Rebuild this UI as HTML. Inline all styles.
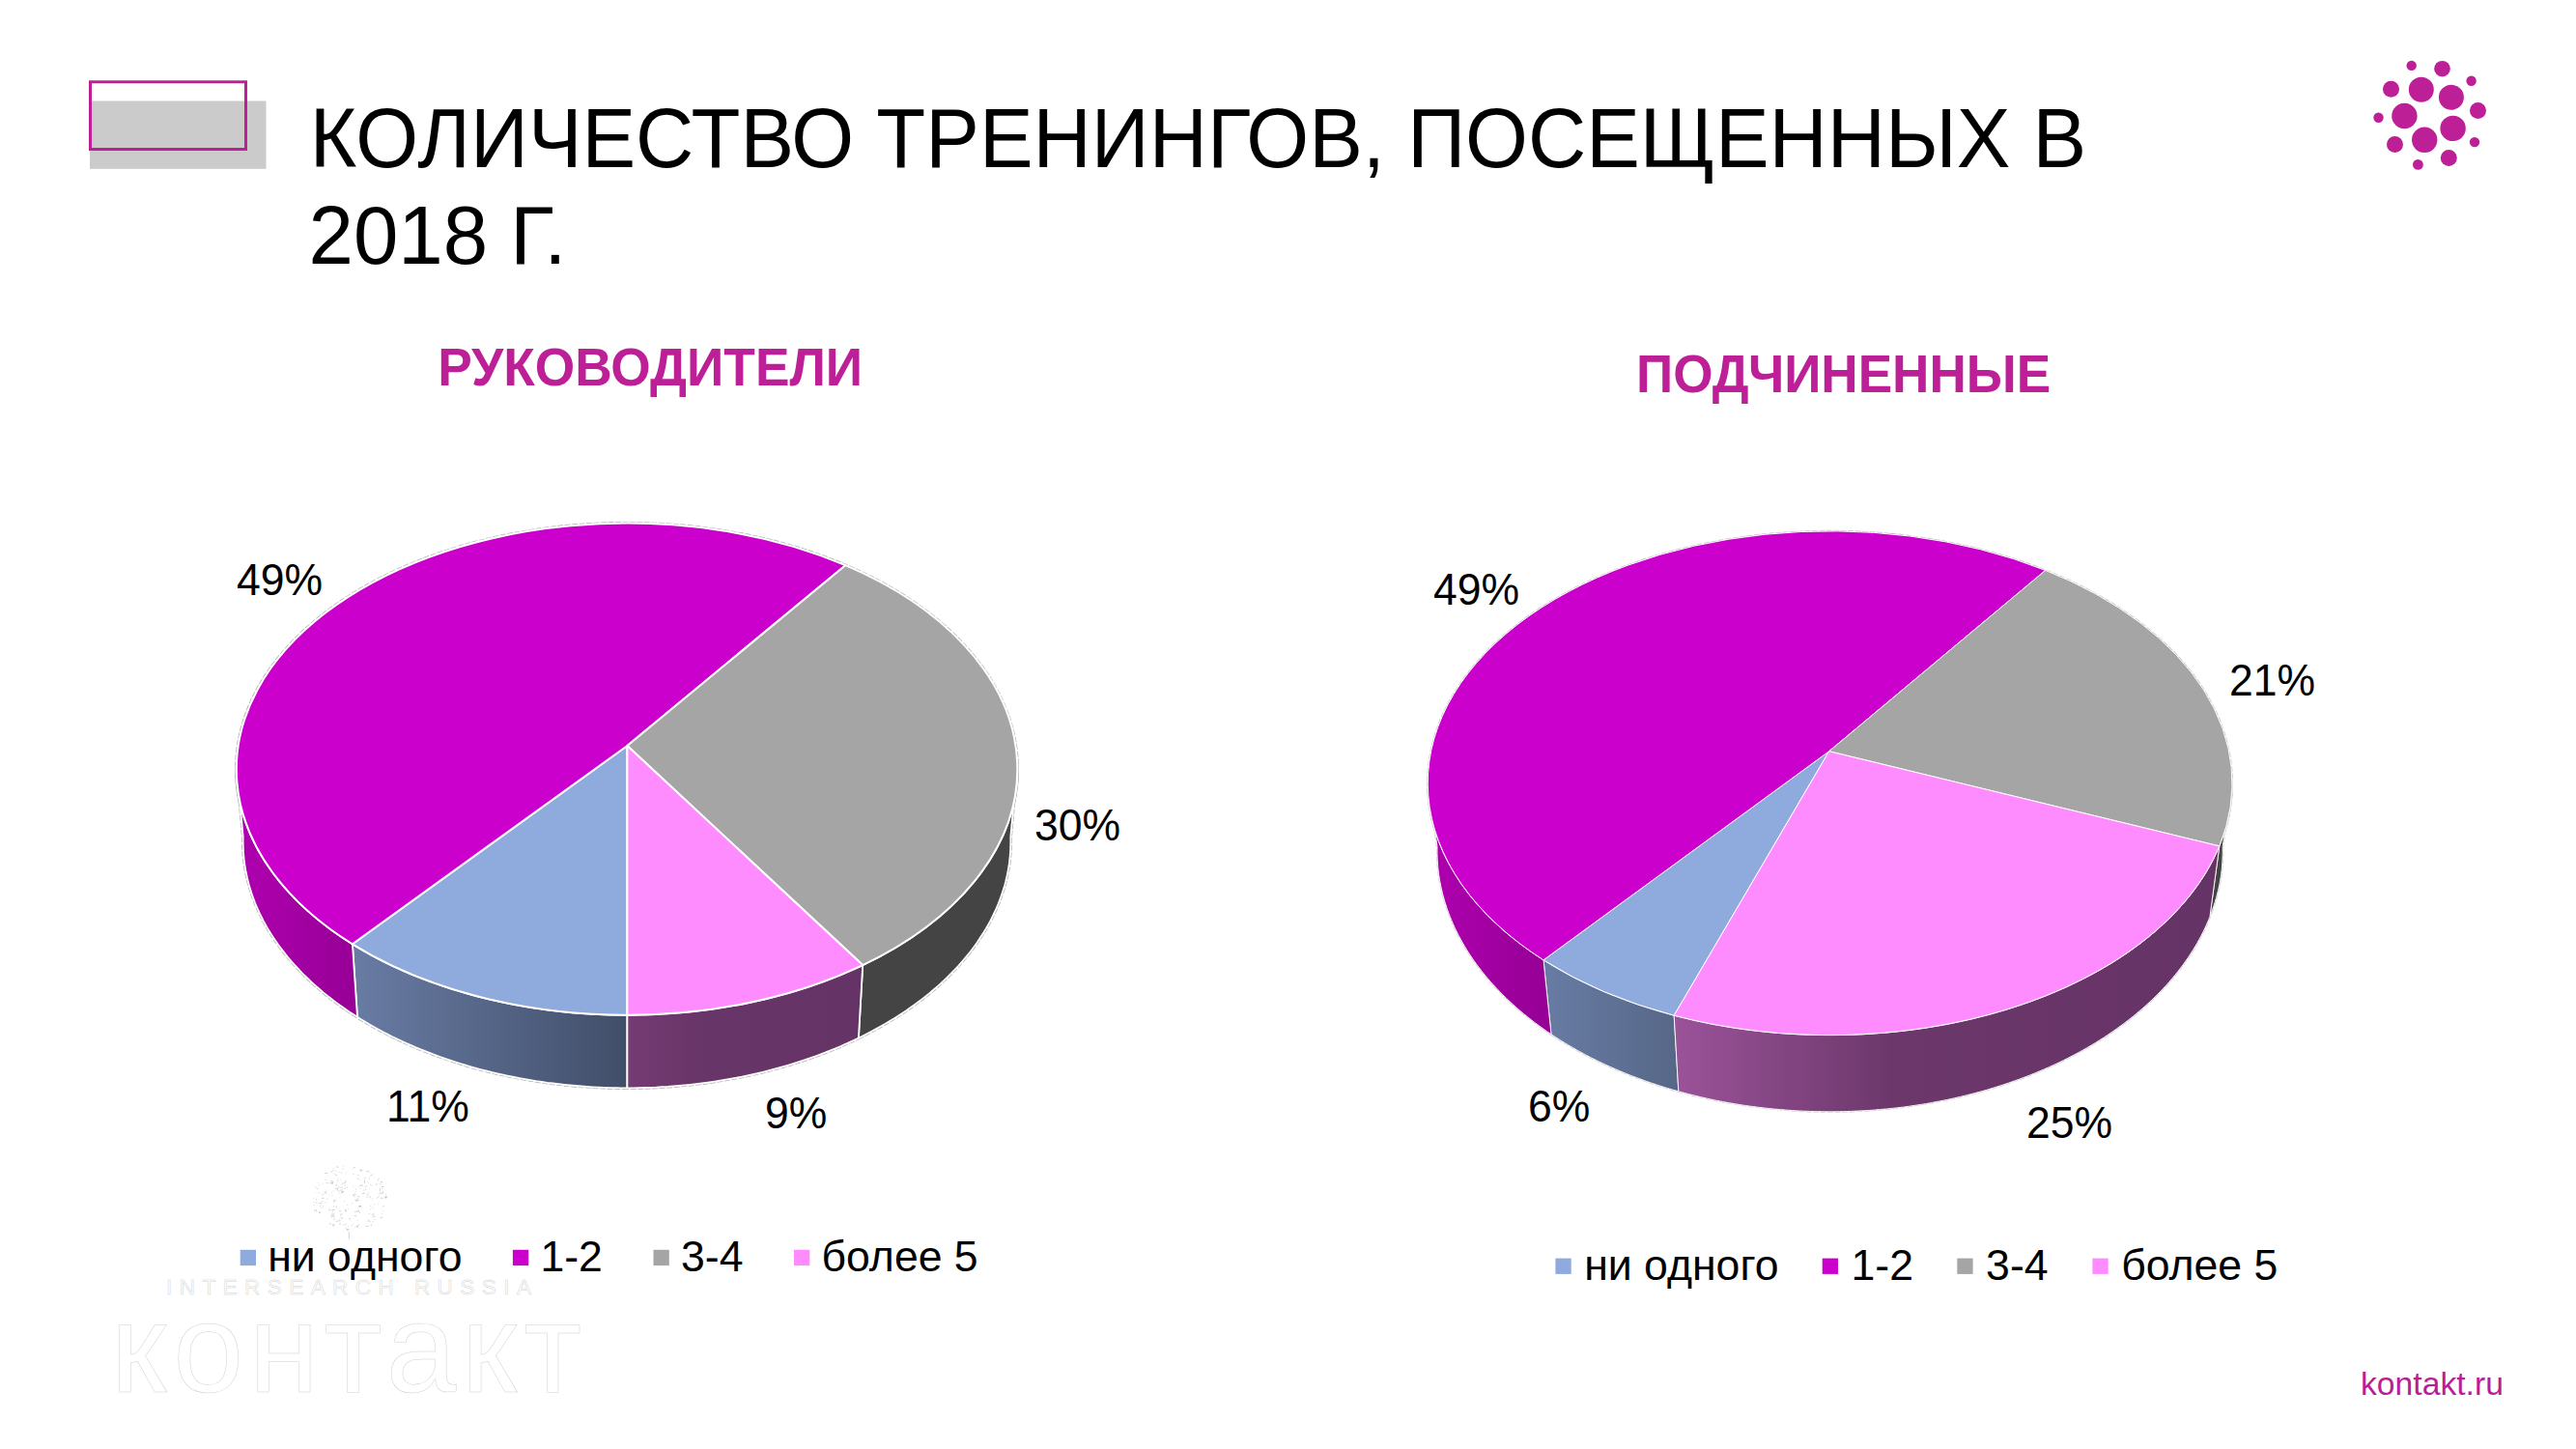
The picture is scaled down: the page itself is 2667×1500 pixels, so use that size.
<!DOCTYPE html>
<html lang="ru"><head><meta charset="utf-8"><title>Количество тренингов</title>
<style>
html,body{margin:0;padding:0;background:#fff;}
body{width:2667px;height:1500px;overflow:hidden;}
svg{display:block;font-family:"Liberation Sans",sans-serif;}
</style></head><body>
<svg width="2667" height="1500" viewBox="0 0 2667 1500">
<rect width="2667" height="1500" fill="#fff"/>
<!-- title marker -->
<rect x="93" y="104.5" width="182.5" height="70.3" fill="#CBCBCB"/>
<rect x="93.5" y="84.8" width="161" height="69.7" fill="none" stroke="#BC1F96" stroke-width="3"/>
<!-- title -->
<text transform="translate(320.7,172.7) scale(1.0,1.034)" font-size="83.4" fill="#000" font-weight="normal" text-anchor="start" >КОЛИЧЕСТВО ТРЕНИНГОВ, ПОСЕЩЕННЫХ В</text>
<text transform="translate(319.5,272.9) scale(1.0,1.03)" font-size="83.4" fill="#000" font-weight="normal" text-anchor="start" >2018 Г.</text>
<!-- corner logo -->
<g fill="#BC1F96"><circle cx="2496.7" cy="67.9" r="5.2"/><circle cx="2528.5" cy="71.2" r="8.3"/><circle cx="2558.6" cy="83.7" r="5.2"/><circle cx="2475.5" cy="92.3" r="8.5"/><circle cx="2506.8" cy="92.8" r="13"/><circle cx="2537.9" cy="100.8" r="13"/><circle cx="2565.5" cy="114.5" r="8.5"/><circle cx="2489.4" cy="120" r="13.2"/><circle cx="2462.5" cy="121.8" r="5.2"/><circle cx="2539.6" cy="132.9" r="13.2"/><circle cx="2510.2" cy="144.8" r="13.2"/><circle cx="2562" cy="147.1" r="5.2"/><circle cx="2479.5" cy="149.5" r="8.5"/><circle cx="2535.3" cy="163.5" r="8.5"/><circle cx="2503.4" cy="170.4" r="5.4"/></g>
<!-- headings -->
<text transform="translate(673.2,398.5) scale(1.0,1.03)" font-size="53.3" fill="#BC1F96" font-weight="bold" text-anchor="middle" >РУКОВОДИТЕЛИ</text>
<text transform="translate(1908.6,406.4) scale(1.0,1.03)" font-size="53.1" fill="#BC1F96" font-weight="bold" text-anchor="middle" >ПОДЧИНЕННЫЕ</text>
<!-- footer logo (white on white, faint outline) -->
<g fill="#fff" stroke="#d2d2d2" stroke-width="0.5">
<text x="172" y="1340" font-size="22.5" fill="#fff" font-weight="normal" text-anchor="start" letter-spacing="7.45">INTERSEARCH RUSSIA</text>
<text x="115" y="1440.5" font-size="131" fill="#fff" font-weight="normal" text-anchor="start" letter-spacing="5.5">контакт</text>
<path fill="none" stroke="#b0b0b0" stroke-width="0.55" d="M348.2 1216.1l0.8 0.0M368.2 1269.2l0.8 0.0M329.9 1234.8l0.8 0.0M365.7 1209.6l-0.6 0.6M396.3 1249.6l-0.6 0.6M367.7 1233.3l0.8 0.0M366.2 1214.8l0.0 1.2M364.9 1245.5l-0.8 0.8M331.2 1245.5l2.0 0.0M330.8 1255.3l-0.6 0.6M371.0 1240.2l-2.0 2.0M383.1 1238.1l0.0 2.0M346.4 1261.1l0.8 0.0M367.5 1242.3l2.0 2.0M332.4 1234.8l0.8 0.8M395.2 1235.0l2.0 0.0M349.5 1230.0l0.0 2.8M344.1 1254.3l0.8 0.0M379.6 1227.2l-2.0 2.0M345.2 1232.5l0.6 0.6M395.7 1230.4l-0.6 0.6M345.4 1257.2l0.0 2.8M393.9 1240.3l2.8 0.0M354.2 1224.9l2.8 0.0M389.8 1225.0l0.0 2.0M375.9 1232.1l1.2 0.0M387.3 1218.3l0.6 0.6M334.5 1242.9l-1.4 1.4M396.7 1253.8l-0.6 0.6M358.5 1266.5l-2.0 2.0M354.0 1233.1l0.0 2.8M339.4 1216.9l0.6 0.6M331.2 1245.2l-0.6 0.6M396.4 1248.5l1.2 0.0M370.6 1215.9l1.4 1.4M369.7 1238.7l2.8 0.0M399.8 1238.1l0.0 2.0M349.7 1224.0l0.8 0.0M351.2 1253.8l2.0 0.0M376.9 1223.8l0.8 0.8M350.7 1221.1l-1.4 1.4M372.3 1248.4l1.2 0.0M386.3 1257.3l1.2 0.0M344.8 1223.6l-1.4 1.4M357.7 1271.1l1.4 1.4M359.5 1229.1l0.0 0.8M360.2 1251.2l0.8 0.0M393.4 1260.3l2.8 0.0M391.8 1235.9l0.6 0.6M353.8 1233.6l1.2 0.0M336.4 1214.4l2.8 0.0M385.4 1215.7l-2.0 2.0M373.9 1230.0l-0.8 0.8M379.2 1212.7l2.8 0.0M339.7 1240.6l-1.4 1.4M343.3 1234.8l0.8 0.0M393.4 1230.3l0.0 2.8M383.1 1248.1l1.2 0.0M334.2 1248.8l0.8 0.0M348.4 1241.8l-2.0 2.0M383.7 1212.9l-0.6 0.6M342.4 1224.9l2.8 0.0M366.6 1258.7l2.8 0.0M370.0 1219.5l2.0 2.0M392.0 1219.7l0.0 1.2M355.4 1233.0l0.6 0.6M375.0 1235.5l2.0 0.0M383.7 1268.3l2.0 0.0M396.6 1233.4l0.0 1.2M335.7 1235.7l-2.0 2.0M349.4 1219.2l0.6 0.6M366.0 1236.3l2.8 0.0M348.8 1249.2l-0.6 0.6M340.9 1266.8l2.0 0.0M344.2 1268.9l2.0 0.0M381.5 1262.9l2.0 2.0M367.2 1254.5l2.0 0.0M327.7 1253.7l0.0 0.8M330.1 1223.7l-0.8 0.8M358.2 1229.2l-2.0 2.0M394.7 1224.3l0.8 0.0M347.3 1226.9l2.0 0.0M357.6 1252.6l1.4 1.4M357.7 1251.6l0.0 2.8M365.3 1267.7l-1.4 1.4M349.7 1263.8l2.8 0.0M371.5 1267.1l0.0 1.2M327.6 1252.1l0.0 2.0M369.4 1254.0l2.8 0.0M337.6 1224.3l2.0 0.0M351.3 1228.5l-1.4 1.4M347.1 1230.5l2.0 0.0M352.7 1238.7l-0.8 0.8M342.4 1259.8l2.0 0.0M386.2 1215.6l-0.6 0.6M353.6 1226.5l0.8 0.0M368.4 1242.5l2.8 0.0M382.2 1255.9l0.0 1.2M345.2 1248.8l0.8 0.0M386.8 1255.6l-2.0 2.0M379.8 1262.4l0.8 0.0M386.9 1246.4l0.8 0.0M351.1 1212.8l0.0 0.8M371.6 1249.3l2.8 0.0M343.6 1237.5l0.8 0.0M374.1 1210.1l0.0 2.0M385.6 1264.7l1.2 0.0M341.1 1251.0l0.0 2.8M393.4 1225.6l1.2 0.0M342.9 1257.5l0.8 0.8M344.0 1252.5l2.8 0.0M345.7 1241.7l0.0 2.8M359.2 1213.8l-0.8 0.8M347.3 1211.5l0.0 0.8M345.6 1210.9l-2.0 2.0M380.9 1223.8l0.8 0.8M369.8 1249.7l0.6 0.6M377.5 1221.7l0.0 2.8M346.6 1215.3l2.0 2.0M347.6 1264.3l2.0 0.0M381.1 1264.2l1.2 0.0M378.2 1268.6l1.4 1.4M352.0 1233.0l-0.6 0.6M351.1 1235.5l0.6 0.6M344.9 1209.1l0.8 0.8M342.5 1224.1l-1.4 1.4M337.9 1231.6l0.0 0.8M385.8 1249.7l-0.8 0.8M379.7 1237.1l2.0 0.0M360.7 1269.3l-0.8 0.8M336.4 1234.5l1.4 1.4M343.0 1257.2l2.0 2.0M373.8 1226.6l-2.0 2.0M332.5 1250.5l1.2 0.0M365.7 1237.2l2.0 2.0M356.2 1243.8l0.8 0.0M336.8 1244.4l0.8 0.8M351.7 1262.2l0.8 0.0M381.0 1234.4l0.0 1.2M352.3 1229.2l2.8 0.0M333.0 1240.7l0.8 0.0M344.2 1222.9l0.0 2.8M356.6 1227.3l1.2 0.0M392.3 1238.6l-2.0 2.0M342.4 1213.1l1.2 0.0M395.8 1256.0l0.0 0.8M365.8 1208.3l1.2 0.0M367.1 1208.1l0.8 0.8M371.5 1242.5l0.0 0.8M331.0 1226.5l-0.8 0.8M353.2 1221.2l-0.6 0.6M358.8 1272.6l2.8 0.0M325.6 1234.3l0.6 0.6M325.0 1240.4l0.0 0.8M343.1 1252.2l0.8 0.8M378.6 1230.9l0.0 1.2M382.3 1219.1l0.0 1.2M343.7 1267.8l2.8 0.0M370.3 1268.3l0.0 2.8M369.1 1270.0l1.2 0.0M325.1 1247.2l0.0 0.8M378.0 1218.4l0.0 2.0M395.0 1228.5l2.8 0.0M325.8 1252.0l0.0 2.0M399.1 1236.5l0.8 0.0M355.7 1267.5l-0.8 0.8M352.6 1259.3l2.0 2.0M330.1 1254.9l2.0 0.0M365.0 1236.7l1.4 1.4M380.1 1238.7l0.0 1.2M385.8 1259.2l2.8 0.0M394.1 1223.5l2.0 0.0M351.2 1228.9l-0.6 0.6M343.5 1255.7l1.4 1.4M346.2 1256.0l-0.6 0.6M359.9 1272.5l0.0 2.0M333.5 1240.3l2.0 0.0M386.7 1259.6l-0.8 0.8M348.5 1227.9l0.6 0.6M335.6 1234.0l2.8 0.0M365.8 1228.3l0.0 0.8M357.7 1221.9l0.0 2.8M371.1 1252.7l-0.6 0.6M383.3 1226.1l1.4 1.4M352.0 1257.2l2.8 0.0M342.4 1222.7l2.0 0.0M391.4 1246.0l0.6 0.6M385.6 1251.2l0.8 0.0M341.1 1236.9l0.6 0.6M390.8 1221.8l1.2 0.0M369.5 1263.5l0.8 0.0M352.0 1266.1l0.0 2.0M383.0 1252.0l0.8 0.0M372.4 1255.2l0.8 0.8M326.2 1229.3l1.2 0.0M379.7 1269.5l2.0 0.0M354.8 1231.5l-1.4 1.4M354.7 1261.2l-0.8 0.8M372.5 1211.9l2.8 0.0M376.8 1234.2l1.4 1.4M355.5 1209.1l-1.4 1.4M355.2 1206.8l0.8 0.8M353.4 1233.8l2.8 0.0M392.7 1235.2l2.8 0.0M367.8 1231.0l1.2 0.0M324.4 1244.1l0.0 0.8M367.4 1270.4l-0.8 0.8M334.5 1225.3l-0.8 0.8M361.1 1261.8l2.0 0.0M398.4 1239.3l2.8 0.0M329.9 1255.4l1.2 0.0M371.1 1248.5l2.8 0.0M337.4 1220.8l0.0 1.2M352.8 1214.1l1.2 0.0M326.5 1244.9l2.0 0.0M332.4 1247.5l-1.4 1.4M373.3 1227.1l2.8 0.0M353.3 1231.2l-2.0 2.0M399.2 1238.1l0.0 2.8M387.7 1262.2l0.0 0.8M328.5 1230.6l0.6 0.6M385.1 1240.8l0.8 0.0M372.3 1211.3l0.6 0.6M327.5 1240.8l0.0 1.2M370.6 1254.0l1.2 0.0M345.5 1262.3l1.2 0.0M328.3 1230.1l0.8 0.8M348.2 1248.4l0.0 1.2M360.3 1246.9l-0.8 0.8M347.9 1208.1l2.8 0.0M361.3 1275v7.5"/>
</g>
<!-- pies -->
<defs>
<linearGradient id="ag0" gradientUnits="userSpaceOnUse" x1="370" y1="0" x2="650" y2="0"><stop offset="0" stop-color="#687BA3"/><stop offset="1" stop-color="#414E69"/></linearGradient>
<linearGradient id="ag1" gradientUnits="userSpaceOnUse" x1="245" y1="0" x2="370" y2="0"><stop offset="0" stop-color="#B000B0"/><stop offset="1" stop-color="#960096"/></linearGradient>
<linearGradient id="ag3" gradientUnits="userSpaceOnUse" x1="650" y1="0" x2="893" y2="0"><stop offset="0" stop-color="#753B73"/><stop offset="0.35" stop-color="#673567"/><stop offset="1" stop-color="#663366"/></linearGradient>
</defs>
<g fill="none" stroke="#b4b4b4" stroke-width="3.30" stroke-linejoin="round" stroke-dasharray="6 1.5"><polygon points="649.4,1050.8 643.3,1050.8 637.3,1050.7 631.2,1050.6 625.1,1050.4 619.1,1050.1 613.1,1049.8 607.0,1049.4 601.0,1049.0 595.0,1048.5 589.0,1048.0 583.0,1047.4 577.0,1046.7 571.0,1046.0 565.1,1045.3 559.2,1044.4 553.3,1043.6 547.4,1042.6 541.5,1041.6 535.7,1040.6 529.9,1039.5 524.1,1038.3 518.3,1037.1 512.6,1035.9 506.9,1034.6 501.2,1033.2 495.6,1031.8 490.0,1030.3 484.5,1028.8 478.9,1027.2 473.5,1025.5 468.0,1023.9 462.6,1022.1 457.2,1020.3 451.9,1018.5 446.7,1016.6 441.4,1014.7 436.2,1012.7 431.1,1010.7 426.0,1008.6 421.0,1006.4 416.0,1004.3 411.1,1002.0 406.2,999.8 401.4,997.5 396.6,995.1 391.9,992.7 387.2,990.2 382.7,987.7 378.1,985.2 373.6,982.6 369.2,980.0 364.9,977.3 370.0,1052.8 374.2,1055.5 378.6,1058.1 383.0,1060.7 387.4,1063.2 391.9,1065.7 396.5,1068.2 401.1,1070.6 405.8,1073.0 410.6,1075.3 415.4,1077.5 420.2,1079.8 425.1,1081.9 430.0,1084.1 435.0,1086.2 440.1,1088.2 445.2,1090.2 450.3,1092.1 455.5,1094.0 460.7,1095.8 466.0,1097.6 471.3,1099.4 476.6,1101.0 482.0,1102.7 487.4,1104.3 492.9,1105.8 498.4,1107.3 503.9,1108.7 509.5,1110.1 515.1,1111.4 520.7,1112.6 526.4,1113.8 532.0,1115.0 537.7,1116.1 543.5,1117.1 549.2,1118.1 555.0,1119.1 560.8,1119.9 566.6,1120.8 572.5,1121.5 578.3,1122.2 584.2,1122.9 590.1,1123.5 596.0,1124.0 601.9,1124.5 607.8,1124.9 613.7,1125.3 619.6,1125.6 625.6,1125.9 631.5,1126.1 637.5,1126.2 643.4,1126.3 649.4,1126.3"/><polygon points="364.9,977.3 360.6,974.6 356.4,971.9 352.2,969.1 348.1,966.3 344.1,963.4 340.1,960.5 336.3,957.5 332.4,954.6 328.7,951.6 325.0,948.5 321.4,945.4 317.9,942.3 314.4,939.2 311.1,936.0 307.8,932.8 304.6,929.5 301.4,926.2 298.4,922.9 295.4,919.6 292.5,916.2 289.6,912.9 286.9,909.4 284.2,906.0 281.7,902.5 279.2,899.0 276.7,895.5 274.4,892.0 272.2,888.4 270.0,884.9 267.9,881.3 266.0,877.7 264.1,874.0 262.2,870.4 260.5,866.7 258.9,863.0 257.3,859.3 255.9,855.6 254.5,851.9 253.2,848.1 252.0,844.4 250.9,840.6 249.9,836.8 249.0,833.1 248.1,829.3 247.4,825.5 246.7,821.7 246.2,817.9 245.7,814.1 245.3,810.2 245.0,806.4 244.8,802.6 244.7,798.8 244.7,794.9 244.8,791.1 251.7,866.6 251.6,870.4 251.7,874.3 251.8,878.1 252.0,881.9 252.3,885.7 252.6,889.6 253.1,893.4 253.7,897.2 254.3,901.0 255.1,904.8 255.9,908.6 256.8,912.3 257.8,916.1 258.9,919.9 260.1,923.6 261.3,927.4 262.7,931.1 264.1,934.8 265.7,938.5 267.3,942.2 269.0,945.9 270.8,949.5 272.6,953.2 274.6,956.8 276.6,960.4 278.8,963.9 281.0,967.5 283.3,971.0 285.7,974.5 288.1,978.0 290.7,981.5 293.3,984.9 296.0,988.4 298.7,991.7 301.6,995.1 304.5,998.4 307.6,1001.7 310.7,1005.0 313.8,1008.3 317.1,1011.5 320.4,1014.7 323.8,1017.8 327.2,1020.9 330.8,1024.0 334.4,1027.1 338.1,1030.1 341.8,1033.0 345.6,1036.0 349.5,1038.9 353.5,1041.8 357.5,1044.6 361.6,1047.4 365.8,1050.1 370.0,1052.8"/><polygon points="1053.2,791.1 1053.3,795.0 1053.3,798.8 1053.2,802.7 1053.0,806.6 1052.7,810.4 1052.3,814.3 1051.8,818.2 1051.2,822.0 1050.5,825.9 1049.8,829.7 1048.9,833.5 1048.0,837.4 1046.9,841.2 1045.8,845.0 1044.6,848.8 1043.3,852.5 1041.9,856.3 1040.4,860.1 1038.8,863.8 1037.1,867.5 1035.3,871.2 1033.5,874.9 1031.5,878.6 1029.5,882.2 1027.4,885.9 1025.2,889.5 1022.9,893.1 1020.5,896.6 1018.0,900.2 1015.5,903.7 1012.9,907.2 1010.1,910.7 1007.3,914.1 1004.4,917.5 1001.5,920.9 998.4,924.3 995.3,927.6 992.1,930.9 988.8,934.2 985.4,937.4 982.0,940.6 978.5,943.8 974.9,946.9 971.2,950.0 967.4,953.1 963.6,956.1 959.7,959.1 955.8,962.0 951.7,965.0 947.6,967.8 943.4,970.7 939.2,973.5 934.9,976.2 930.5,978.9 926.1,981.6 921.6,984.2 917.0,986.8 912.4,989.4 907.7,991.9 902.9,994.3 898.1,996.7 893.2,999.1 888.9,1074.6 893.6,1072.2 898.4,1069.8 903.0,1067.4 907.6,1064.9 912.2,1062.3 916.7,1059.7 921.1,1057.1 925.5,1054.4 929.8,1051.7 934.0,1049.0 938.2,1046.2 942.3,1043.3 946.3,1040.5 950.3,1037.5 954.2,1034.6 958.0,1031.6 961.8,1028.6 965.5,1025.5 969.1,1022.4 972.6,1019.3 976.1,1016.1 979.5,1012.9 982.8,1009.7 986.0,1006.4 989.2,1003.1 992.3,999.8 995.3,996.4 998.2,993.0 1001.0,989.6 1003.8,986.2 1006.5,982.7 1009.1,979.2 1011.6,975.7 1014.0,972.1 1016.3,968.6 1018.6,965.0 1020.8,961.4 1022.9,957.7 1024.9,954.1 1026.8,950.4 1028.6,946.7 1030.4,943.0 1032.0,939.3 1033.6,935.6 1035.0,931.8 1036.4,928.0 1037.7,924.3 1038.9,920.5 1040.1,916.7 1041.1,912.9 1042.0,909.0 1042.9,905.2 1043.6,901.4 1044.3,897.5 1044.9,893.7 1045.3,889.8 1045.7,885.9 1046.0,882.1 1046.2,878.2 1046.3,874.3 1046.4,870.5 1046.3,866.6"/><polygon points="893.2,999.1 888.4,1001.4 883.4,1003.6 878.4,1005.8 873.4,1008.0 868.3,1010.1 863.2,1012.1 858.0,1014.2 852.7,1016.1 847.5,1018.0 842.1,1019.9 836.8,1021.7 831.3,1023.4 825.9,1025.1 820.4,1026.8 814.9,1028.4 809.3,1029.9 803.7,1031.4 798.0,1032.9 792.4,1034.3 786.6,1035.6 780.9,1036.9 775.1,1038.1 769.3,1039.3 763.5,1040.4 757.7,1041.4 751.8,1042.4 745.9,1043.4 740.0,1044.3 734.0,1045.1 728.0,1045.9 722.1,1046.6 716.1,1047.3 710.1,1047.9 704.0,1048.4 698.0,1048.9 691.9,1049.4 685.9,1049.7 679.8,1050.1 673.7,1050.3 667.7,1050.5 661.6,1050.7 655.5,1050.8 649.4,1050.8 649.4,1126.3 655.4,1126.3 661.4,1126.2 667.3,1126.0 673.3,1125.8 679.3,1125.6 685.2,1125.2 691.2,1124.9 697.1,1124.4 703.0,1123.9 709.0,1123.4 714.9,1122.8 720.7,1122.1 726.6,1121.4 732.5,1120.6 738.3,1119.8 744.1,1118.9 749.9,1117.9 755.7,1116.9 761.4,1115.9 767.2,1114.8 772.9,1113.6 778.5,1112.4 784.2,1111.1 789.8,1109.8 795.3,1108.4 800.9,1106.9 806.4,1105.4 811.9,1103.9 817.3,1102.3 822.7,1100.6 828.1,1098.9 833.4,1097.2 838.6,1095.4 843.9,1093.5 849.1,1091.6 854.2,1089.7 859.3,1087.6 864.4,1085.6 869.4,1083.5 874.3,1081.3 879.2,1079.1 884.1,1076.9 888.9,1074.6"/><ellipse cx="649.0" cy="796.2" rx="404.3" ry="254.6"/></g>
<polygon points="649.4,1050.8 643.3,1050.8 637.3,1050.7 631.2,1050.6 625.1,1050.4 619.1,1050.1 613.1,1049.8 607.0,1049.4 601.0,1049.0 595.0,1048.5 589.0,1048.0 583.0,1047.4 577.0,1046.7 571.0,1046.0 565.1,1045.3 559.2,1044.4 553.3,1043.6 547.4,1042.6 541.5,1041.6 535.7,1040.6 529.9,1039.5 524.1,1038.3 518.3,1037.1 512.6,1035.9 506.9,1034.6 501.2,1033.2 495.6,1031.8 490.0,1030.3 484.5,1028.8 478.9,1027.2 473.5,1025.5 468.0,1023.9 462.6,1022.1 457.2,1020.3 451.9,1018.5 446.7,1016.6 441.4,1014.7 436.2,1012.7 431.1,1010.7 426.0,1008.6 421.0,1006.4 416.0,1004.3 411.1,1002.0 406.2,999.8 401.4,997.5 396.6,995.1 391.9,992.7 387.2,990.2 382.7,987.7 378.1,985.2 373.6,982.6 369.2,980.0 364.9,977.3 370.0,1052.8 374.2,1055.5 378.6,1058.1 383.0,1060.7 387.4,1063.2 391.9,1065.7 396.5,1068.2 401.1,1070.6 405.8,1073.0 410.6,1075.3 415.4,1077.5 420.2,1079.8 425.1,1081.9 430.0,1084.1 435.0,1086.2 440.1,1088.2 445.2,1090.2 450.3,1092.1 455.5,1094.0 460.7,1095.8 466.0,1097.6 471.3,1099.4 476.6,1101.0 482.0,1102.7 487.4,1104.3 492.9,1105.8 498.4,1107.3 503.9,1108.7 509.5,1110.1 515.1,1111.4 520.7,1112.6 526.4,1113.8 532.0,1115.0 537.7,1116.1 543.5,1117.1 549.2,1118.1 555.0,1119.1 560.8,1119.9 566.6,1120.8 572.5,1121.5 578.3,1122.2 584.2,1122.9 590.1,1123.5 596.0,1124.0 601.9,1124.5 607.8,1124.9 613.7,1125.3 619.6,1125.6 625.6,1125.9 631.5,1126.1 637.5,1126.2 643.4,1126.3 649.4,1126.3" fill="url(#ag0)" stroke="#fff" stroke-width="1.80" stroke-linejoin="round"/>
<polygon points="364.9,977.3 360.6,974.6 356.4,971.9 352.2,969.1 348.1,966.3 344.1,963.4 340.1,960.5 336.3,957.5 332.4,954.6 328.7,951.6 325.0,948.5 321.4,945.4 317.9,942.3 314.4,939.2 311.1,936.0 307.8,932.8 304.6,929.5 301.4,926.2 298.4,922.9 295.4,919.6 292.5,916.2 289.6,912.9 286.9,909.4 284.2,906.0 281.7,902.5 279.2,899.0 276.7,895.5 274.4,892.0 272.2,888.4 270.0,884.9 267.9,881.3 266.0,877.7 264.1,874.0 262.2,870.4 260.5,866.7 258.9,863.0 257.3,859.3 255.9,855.6 254.5,851.9 253.2,848.1 252.0,844.4 250.9,840.6 249.9,836.8 249.0,833.1 248.1,829.3 247.4,825.5 246.7,821.7 246.2,817.9 245.7,814.1 245.3,810.2 245.0,806.4 244.8,802.6 244.7,798.8 244.7,794.9 244.8,791.1 251.7,866.6 251.6,870.4 251.7,874.3 251.8,878.1 252.0,881.9 252.3,885.7 252.6,889.6 253.1,893.4 253.7,897.2 254.3,901.0 255.1,904.8 255.9,908.6 256.8,912.3 257.8,916.1 258.9,919.9 260.1,923.6 261.3,927.4 262.7,931.1 264.1,934.8 265.7,938.5 267.3,942.2 269.0,945.9 270.8,949.5 272.6,953.2 274.6,956.8 276.6,960.4 278.8,963.9 281.0,967.5 283.3,971.0 285.7,974.5 288.1,978.0 290.7,981.5 293.3,984.9 296.0,988.4 298.7,991.7 301.6,995.1 304.5,998.4 307.6,1001.7 310.7,1005.0 313.8,1008.3 317.1,1011.5 320.4,1014.7 323.8,1017.8 327.2,1020.9 330.8,1024.0 334.4,1027.1 338.1,1030.1 341.8,1033.0 345.6,1036.0 349.5,1038.9 353.5,1041.8 357.5,1044.6 361.6,1047.4 365.8,1050.1 370.0,1052.8" fill="url(#ag1)" stroke="#fff" stroke-width="1.80" stroke-linejoin="round"/>
<polygon points="1053.2,791.1 1053.3,795.0 1053.3,798.8 1053.2,802.7 1053.0,806.6 1052.7,810.4 1052.3,814.3 1051.8,818.2 1051.2,822.0 1050.5,825.9 1049.8,829.7 1048.9,833.5 1048.0,837.4 1046.9,841.2 1045.8,845.0 1044.6,848.8 1043.3,852.5 1041.9,856.3 1040.4,860.1 1038.8,863.8 1037.1,867.5 1035.3,871.2 1033.5,874.9 1031.5,878.6 1029.5,882.2 1027.4,885.9 1025.2,889.5 1022.9,893.1 1020.5,896.6 1018.0,900.2 1015.5,903.7 1012.9,907.2 1010.1,910.7 1007.3,914.1 1004.4,917.5 1001.5,920.9 998.4,924.3 995.3,927.6 992.1,930.9 988.8,934.2 985.4,937.4 982.0,940.6 978.5,943.8 974.9,946.9 971.2,950.0 967.4,953.1 963.6,956.1 959.7,959.1 955.8,962.0 951.7,965.0 947.6,967.8 943.4,970.7 939.2,973.5 934.9,976.2 930.5,978.9 926.1,981.6 921.6,984.2 917.0,986.8 912.4,989.4 907.7,991.9 902.9,994.3 898.1,996.7 893.2,999.1 888.9,1074.6 893.6,1072.2 898.4,1069.8 903.0,1067.4 907.6,1064.9 912.2,1062.3 916.7,1059.7 921.1,1057.1 925.5,1054.4 929.8,1051.7 934.0,1049.0 938.2,1046.2 942.3,1043.3 946.3,1040.5 950.3,1037.5 954.2,1034.6 958.0,1031.6 961.8,1028.6 965.5,1025.5 969.1,1022.4 972.6,1019.3 976.1,1016.1 979.5,1012.9 982.8,1009.7 986.0,1006.4 989.2,1003.1 992.3,999.8 995.3,996.4 998.2,993.0 1001.0,989.6 1003.8,986.2 1006.5,982.7 1009.1,979.2 1011.6,975.7 1014.0,972.1 1016.3,968.6 1018.6,965.0 1020.8,961.4 1022.9,957.7 1024.9,954.1 1026.8,950.4 1028.6,946.7 1030.4,943.0 1032.0,939.3 1033.6,935.6 1035.0,931.8 1036.4,928.0 1037.7,924.3 1038.9,920.5 1040.1,916.7 1041.1,912.9 1042.0,909.0 1042.9,905.2 1043.6,901.4 1044.3,897.5 1044.9,893.7 1045.3,889.8 1045.7,885.9 1046.0,882.1 1046.2,878.2 1046.3,874.3 1046.4,870.5 1046.3,866.6" fill="#444444" stroke="#fff" stroke-width="1.80" stroke-linejoin="round"/>
<polygon points="893.2,999.1 888.4,1001.4 883.4,1003.6 878.4,1005.8 873.4,1008.0 868.3,1010.1 863.2,1012.1 858.0,1014.2 852.7,1016.1 847.5,1018.0 842.1,1019.9 836.8,1021.7 831.3,1023.4 825.9,1025.1 820.4,1026.8 814.9,1028.4 809.3,1029.9 803.7,1031.4 798.0,1032.9 792.4,1034.3 786.6,1035.6 780.9,1036.9 775.1,1038.1 769.3,1039.3 763.5,1040.4 757.7,1041.4 751.8,1042.4 745.9,1043.4 740.0,1044.3 734.0,1045.1 728.0,1045.9 722.1,1046.6 716.1,1047.3 710.1,1047.9 704.0,1048.4 698.0,1048.9 691.9,1049.4 685.9,1049.7 679.8,1050.1 673.7,1050.3 667.7,1050.5 661.6,1050.7 655.5,1050.8 649.4,1050.8 649.4,1126.3 655.4,1126.3 661.4,1126.2 667.3,1126.0 673.3,1125.8 679.3,1125.6 685.2,1125.2 691.2,1124.9 697.1,1124.4 703.0,1123.9 709.0,1123.4 714.9,1122.8 720.7,1122.1 726.6,1121.4 732.5,1120.6 738.3,1119.8 744.1,1118.9 749.9,1117.9 755.7,1116.9 761.4,1115.9 767.2,1114.8 772.9,1113.6 778.5,1112.4 784.2,1111.1 789.8,1109.8 795.3,1108.4 800.9,1106.9 806.4,1105.4 811.9,1103.9 817.3,1102.3 822.7,1100.6 828.1,1098.9 833.4,1097.2 838.6,1095.4 843.9,1093.5 849.1,1091.6 854.2,1089.7 859.3,1087.6 864.4,1085.6 869.4,1083.5 874.3,1081.3 879.2,1079.1 884.1,1076.9 888.9,1074.6" fill="url(#ag3)" stroke="#fff" stroke-width="1.80" stroke-linejoin="round"/>
<path d="M649.4,772.0 L649.4,1050.8 A404.3,254.6 0 0 1 364.9,977.3 Z" fill="#8FAADC" stroke="#fff" stroke-width="2.0" stroke-linejoin="round"/>
<path d="M649.4,772.0 L364.9,977.3 A404.3,254.6 0 0 1 875.3,585.2 Z" fill="#CC00CC" stroke="#fff" stroke-width="2.0" stroke-linejoin="round"/>
<path d="M649.4,772.0 L875.3,585.2 A404.3,254.6 0 0 1 893.2,999.1 Z" fill="#A5A5A5" stroke="#fff" stroke-width="2.0" stroke-linejoin="round"/>
<path d="M649.4,772.0 L893.2,999.1 A404.3,254.6 0 0 1 649.4,1050.8 Z" fill="#FF8CFF" stroke="#fff" stroke-width="2.0" stroke-linejoin="round"/>
<defs>
<linearGradient id="bg0" gradientUnits="userSpaceOnUse" x1="1600" y1="0" x2="1737" y2="0"><stop offset="0" stop-color="#687BA3"/><stop offset="1" stop-color="#566787"/></linearGradient>
<linearGradient id="bg1" gradientUnits="userSpaceOnUse" x1="1477" y1="0" x2="1600" y2="0"><stop offset="0" stop-color="#B000B0"/><stop offset="1" stop-color="#960096"/></linearGradient>
<linearGradient id="bg3" gradientUnits="userSpaceOnUse" x1="1737" y1="0" x2="2290" y2="0"><stop offset="0" stop-color="#9A5299"/><stop offset="0.4" stop-color="#6C386B"/><stop offset="1" stop-color="#663366"/></linearGradient>
</defs>
<g fill="none" stroke="#c8c8c8" stroke-width="2.00" stroke-linejoin="round" stroke-dasharray="6 1.5"><polygon points="1733.2,1051.2 1727.4,1049.6 1721.6,1048.0 1715.9,1046.4 1710.2,1044.6 1704.6,1042.8 1699.0,1041.0 1693.4,1039.1 1687.9,1037.2 1682.4,1035.2 1677.0,1033.1 1671.7,1031.1 1666.3,1028.9 1661.1,1026.7 1655.9,1024.5 1650.7,1022.2 1645.6,1019.8 1640.6,1017.4 1635.6,1015.0 1630.7,1012.5 1625.8,1010.0 1621.0,1007.4 1616.3,1004.8 1611.6,1002.1 1607.0,999.4 1602.5,996.6 1598.0,993.8 1606.0,1070.7 1610.4,1073.5 1614.8,1076.4 1619.3,1079.2 1623.8,1081.9 1628.5,1084.6 1633.1,1087.3 1637.9,1089.9 1642.7,1092.5 1647.5,1095.0 1652.5,1097.4 1657.4,1099.9 1662.4,1102.2 1667.5,1104.5 1672.6,1106.8 1677.8,1109.0 1683.1,1111.2 1688.3,1113.3 1693.6,1115.3 1699.0,1117.3 1704.4,1119.3 1709.9,1121.2 1715.4,1123.0 1720.9,1124.8 1726.5,1126.5 1732.1,1128.2 1737.8,1129.8"/><polygon points="1598.0,993.8 1593.6,991.0 1589.3,988.1 1585.1,985.2 1580.9,982.3 1576.9,979.3 1572.8,976.3 1568.9,973.3 1565.0,970.2 1561.2,967.0 1557.5,963.9 1553.9,960.7 1550.3,957.4 1546.8,954.2 1543.4,950.9 1540.1,947.6 1536.8,944.2 1533.7,940.8 1530.6,937.4 1527.6,933.9 1524.7,930.5 1521.8,927.0 1519.1,923.4 1516.4,919.9 1513.8,916.3 1511.3,912.7 1508.9,909.1 1506.6,905.4 1504.4,901.7 1502.2,898.0 1500.2,894.3 1498.2,890.6 1496.3,886.9 1494.5,883.1 1492.9,879.3 1491.3,875.5 1489.7,871.7 1488.3,867.9 1487.0,864.0 1485.8,860.2 1484.6,856.3 1483.6,852.4 1482.6,848.6 1481.7,844.7 1481.0,840.8 1480.3,836.9 1479.7,833.0 1479.2,829.0 1478.8,825.1 1478.5,821.2 1478.3,817.3 1478.2,813.3 1478.2,809.4 1478.3,805.5 1488.0,876.7 1488.0,880.7 1488.0,884.8 1488.2,888.8 1488.4,892.9 1488.7,896.9 1489.1,900.9 1489.6,905.0 1490.2,909.0 1490.9,913.0 1491.7,917.0 1492.6,921.0 1493.5,925.0 1494.6,929.0 1495.7,933.0 1497.0,937.0 1498.3,940.9 1499.7,944.9 1501.2,948.8 1502.8,952.7 1504.5,956.6 1506.2,960.5 1508.1,964.3 1510.0,968.2 1512.1,972.0 1514.2,975.8 1516.4,979.6 1518.7,983.4 1521.0,987.1 1523.5,990.8 1526.0,994.5 1528.7,998.2 1531.4,1001.8 1534.2,1005.4 1537.0,1009.0 1540.0,1012.5 1543.0,1016.1 1546.1,1019.5 1549.3,1023.0 1552.6,1026.4 1555.9,1029.8 1559.3,1033.2 1562.8,1036.5 1566.4,1039.8 1570.0,1043.1 1573.7,1046.3 1577.5,1049.5 1581.4,1052.6 1585.3,1055.7 1589.3,1058.8 1593.4,1061.8 1597.5,1064.8 1601.7,1067.8 1606.0,1070.7"/><polygon points="2310.9,805.5 2311.0,809.4 2311.0,813.4 2310.9,817.3 2310.7,821.3 2310.4,825.2 2310.0,829.2 2309.5,833.1 2308.9,837.0 2308.2,841.0 2307.4,844.9 2306.5,848.8 2305.6,852.7 2304.5,856.6 2303.4,860.5 2302.1,864.3 2300.8,868.2 2299.3,872.0 2297.8,875.9 2287.9,949.2 2289.4,945.2 2290.8,941.3 2292.1,937.3 2293.4,933.3 2294.6,929.3 2295.6,925.3 2296.6,921.3 2297.5,917.3 2298.3,913.2 2299.0,909.2 2299.6,905.1 2300.1,901.1 2300.5,897.0 2300.8,892.9 2301.0,888.9 2301.2,884.8 2301.2,880.7 2301.2,876.7"/><polygon points="2297.8,875.9 2296.2,879.7 2294.5,883.5 2292.7,887.2 2290.8,891.0 2288.8,894.7 2286.8,898.4 2284.6,902.1 2282.4,905.8 2280.0,909.4 2277.6,913.0 2275.1,916.6 2272.5,920.2 2269.9,923.8 2267.1,927.3 2264.3,930.8 2261.3,934.3 2258.3,937.7 2255.2,941.1 2252.1,944.5 2248.8,947.9 2245.5,951.2 2242.1,954.5 2238.6,957.7 2235.0,961.0 2231.3,964.2 2227.6,967.3 2223.8,970.5 2219.9,973.5 2216.0,976.6 2212.0,979.6 2207.9,982.6 2203.7,985.5 2199.5,988.4 2195.2,991.3 2190.8,994.1 2186.4,996.9 2181.8,999.6 2177.3,1002.3 2172.6,1004.9 2167.9,1007.5 2163.2,1010.1 2158.4,1012.6 2153.5,1015.0 2148.5,1017.5 2143.5,1019.8 2138.5,1022.2 2133.4,1024.4 2128.2,1026.7 2123.0,1028.8 2117.7,1031.0 2112.4,1033.1 2107.1,1035.1 2101.6,1037.1 2096.2,1039.0 2090.7,1040.9 2085.1,1042.7 2079.5,1044.5 2073.9,1046.2 2068.2,1047.8 2062.5,1049.5 2056.7,1051.0 2050.9,1052.5 2045.1,1054.0 2039.3,1055.4 2033.4,1056.7 2027.4,1058.0 2021.5,1059.2 2015.5,1060.4 2009.5,1061.5 2003.4,1062.5 1997.4,1063.5 1991.3,1064.5 1985.2,1065.4 1979.1,1066.2 1972.9,1066.9 1966.7,1067.7 1960.6,1068.3 1954.4,1068.9 1948.2,1069.4 1941.9,1069.9 1935.7,1070.3 1929.5,1070.7 1923.2,1071.0 1916.9,1071.2 1910.7,1071.4 1904.4,1071.5 1898.1,1071.6 1891.9,1071.6 1885.6,1071.5 1879.3,1071.4 1873.1,1071.3 1866.8,1071.0 1860.6,1070.7 1854.3,1070.4 1848.1,1070.0 1841.9,1069.5 1835.7,1069.0 1829.5,1068.4 1823.3,1067.7 1817.1,1067.0 1811.0,1066.3 1804.8,1065.5 1798.7,1064.6 1792.6,1063.7 1786.6,1062.7 1780.5,1061.6 1774.5,1060.5 1768.5,1059.4 1762.6,1058.1 1756.6,1056.9 1750.7,1055.5 1744.9,1054.1 1739.0,1052.7 1733.2,1051.2 1737.8,1129.8 1743.4,1131.3 1749.1,1132.8 1754.8,1134.2 1760.5,1135.6 1766.3,1136.9 1772.1,1138.2 1777.9,1139.4 1783.7,1140.5 1789.6,1141.6 1795.5,1142.6 1801.4,1143.6 1807.4,1144.5 1813.3,1145.3 1819.3,1146.1 1825.3,1146.8 1831.3,1147.5 1837.3,1148.1 1843.4,1148.6 1849.4,1149.1 1855.5,1149.5 1861.5,1149.9 1867.6,1150.2 1873.7,1150.4 1879.8,1150.6 1885.9,1150.7 1892.0,1150.8 1898.0,1150.8 1904.1,1150.7 1910.2,1150.6 1916.3,1150.4 1922.4,1150.1 1928.5,1149.8 1934.5,1149.5 1940.6,1149.0 1946.6,1148.5 1952.7,1148.0 1958.7,1147.4 1964.7,1146.7 1970.7,1146.0 1976.7,1145.2 1982.6,1144.3 1988.6,1143.4 1994.5,1142.5 2000.4,1141.4 2006.2,1140.3 2012.1,1139.2 2017.9,1138.0 2023.7,1136.7 2029.4,1135.4 2035.2,1134.0 2040.9,1132.6 2046.6,1131.1 2052.2,1129.6 2057.8,1128.0 2063.3,1126.3 2068.9,1124.6 2074.4,1122.8 2079.8,1121.0 2085.2,1119.1 2090.6,1117.2 2095.9,1115.2 2101.2,1113.2 2106.4,1111.1 2111.6,1108.9 2116.7,1106.7 2121.8,1104.5 2126.8,1102.2 2131.8,1099.9 2136.7,1097.5 2141.6,1095.0 2146.4,1092.5 2151.2,1090.0 2155.9,1087.4 2160.5,1084.8 2165.1,1082.1 2169.6,1079.4 2174.1,1076.6 2178.5,1073.8 2182.8,1070.9 2187.1,1068.0 2191.3,1065.1 2195.4,1062.1 2199.5,1059.1 2203.5,1056.0 2207.5,1052.9 2211.3,1049.8 2215.1,1046.6 2218.8,1043.4 2222.5,1040.1 2226.1,1036.8 2229.6,1033.5 2233.0,1030.1 2236.3,1026.8 2239.6,1023.3 2242.8,1019.9 2245.9,1016.4 2248.9,1012.9 2251.9,1009.3 2254.8,1005.7 2257.6,1002.1 2260.3,998.5 2262.9,994.8 2265.5,991.2 2267.9,987.4 2270.3,983.7 2272.6,980.0 2274.8,976.2 2276.9,972.4 2279.0,968.6 2280.9,964.7 2282.8,960.9 2284.6,957.0 2286.3,953.1 2287.9,949.2"/><ellipse cx="1894.6" cy="810.7" rx="416.4" ry="260.9"/></g>
<polygon points="1733.2,1051.2 1727.4,1049.6 1721.6,1048.0 1715.9,1046.4 1710.2,1044.6 1704.6,1042.8 1699.0,1041.0 1693.4,1039.1 1687.9,1037.2 1682.4,1035.2 1677.0,1033.1 1671.7,1031.1 1666.3,1028.9 1661.1,1026.7 1655.9,1024.5 1650.7,1022.2 1645.6,1019.8 1640.6,1017.4 1635.6,1015.0 1630.7,1012.5 1625.8,1010.0 1621.0,1007.4 1616.3,1004.8 1611.6,1002.1 1607.0,999.4 1602.5,996.6 1598.0,993.8 1606.0,1070.7 1610.4,1073.5 1614.8,1076.4 1619.3,1079.2 1623.8,1081.9 1628.5,1084.6 1633.1,1087.3 1637.9,1089.9 1642.7,1092.5 1647.5,1095.0 1652.5,1097.4 1657.4,1099.9 1662.4,1102.2 1667.5,1104.5 1672.6,1106.8 1677.8,1109.0 1683.1,1111.2 1688.3,1113.3 1693.6,1115.3 1699.0,1117.3 1704.4,1119.3 1709.9,1121.2 1715.4,1123.0 1720.9,1124.8 1726.5,1126.5 1732.1,1128.2 1737.8,1129.8" fill="url(#bg0)" stroke="#fff" stroke-width="0.90" stroke-linejoin="round"/>
<polygon points="1598.0,993.8 1593.6,991.0 1589.3,988.1 1585.1,985.2 1580.9,982.3 1576.9,979.3 1572.8,976.3 1568.9,973.3 1565.0,970.2 1561.2,967.0 1557.5,963.9 1553.9,960.7 1550.3,957.4 1546.8,954.2 1543.4,950.9 1540.1,947.6 1536.8,944.2 1533.7,940.8 1530.6,937.4 1527.6,933.9 1524.7,930.5 1521.8,927.0 1519.1,923.4 1516.4,919.9 1513.8,916.3 1511.3,912.7 1508.9,909.1 1506.6,905.4 1504.4,901.7 1502.2,898.0 1500.2,894.3 1498.2,890.6 1496.3,886.9 1494.5,883.1 1492.9,879.3 1491.3,875.5 1489.7,871.7 1488.3,867.9 1487.0,864.0 1485.8,860.2 1484.6,856.3 1483.6,852.4 1482.6,848.6 1481.7,844.7 1481.0,840.8 1480.3,836.9 1479.7,833.0 1479.2,829.0 1478.8,825.1 1478.5,821.2 1478.3,817.3 1478.2,813.3 1478.2,809.4 1478.3,805.5 1488.0,876.7 1488.0,880.7 1488.0,884.8 1488.2,888.8 1488.4,892.9 1488.7,896.9 1489.1,900.9 1489.6,905.0 1490.2,909.0 1490.9,913.0 1491.7,917.0 1492.6,921.0 1493.5,925.0 1494.6,929.0 1495.7,933.0 1497.0,937.0 1498.3,940.9 1499.7,944.9 1501.2,948.8 1502.8,952.7 1504.5,956.6 1506.2,960.5 1508.1,964.3 1510.0,968.2 1512.1,972.0 1514.2,975.8 1516.4,979.6 1518.7,983.4 1521.0,987.1 1523.5,990.8 1526.0,994.5 1528.7,998.2 1531.4,1001.8 1534.2,1005.4 1537.0,1009.0 1540.0,1012.5 1543.0,1016.1 1546.1,1019.5 1549.3,1023.0 1552.6,1026.4 1555.9,1029.8 1559.3,1033.2 1562.8,1036.5 1566.4,1039.8 1570.0,1043.1 1573.7,1046.3 1577.5,1049.5 1581.4,1052.6 1585.3,1055.7 1589.3,1058.8 1593.4,1061.8 1597.5,1064.8 1601.7,1067.8 1606.0,1070.7" fill="url(#bg1)" stroke="#fff" stroke-width="0.90" stroke-linejoin="round"/>
<polygon points="2310.9,805.5 2311.0,809.4 2311.0,813.4 2310.9,817.3 2310.7,821.3 2310.4,825.2 2310.0,829.2 2309.5,833.1 2308.9,837.0 2308.2,841.0 2307.4,844.9 2306.5,848.8 2305.6,852.7 2304.5,856.6 2303.4,860.5 2302.1,864.3 2300.8,868.2 2299.3,872.0 2297.8,875.9 2287.9,949.2 2289.4,945.2 2290.8,941.3 2292.1,937.3 2293.4,933.3 2294.6,929.3 2295.6,925.3 2296.6,921.3 2297.5,917.3 2298.3,913.2 2299.0,909.2 2299.6,905.1 2300.1,901.1 2300.5,897.0 2300.8,892.9 2301.0,888.9 2301.2,884.8 2301.2,880.7 2301.2,876.7" fill="#444444" stroke="#fff" stroke-width="0.90" stroke-linejoin="round"/>
<polygon points="2297.8,875.9 2296.2,879.7 2294.5,883.5 2292.7,887.2 2290.8,891.0 2288.8,894.7 2286.8,898.4 2284.6,902.1 2282.4,905.8 2280.0,909.4 2277.6,913.0 2275.1,916.6 2272.5,920.2 2269.9,923.8 2267.1,927.3 2264.3,930.8 2261.3,934.3 2258.3,937.7 2255.2,941.1 2252.1,944.5 2248.8,947.9 2245.5,951.2 2242.1,954.5 2238.6,957.7 2235.0,961.0 2231.3,964.2 2227.6,967.3 2223.8,970.5 2219.9,973.5 2216.0,976.6 2212.0,979.6 2207.9,982.6 2203.7,985.5 2199.5,988.4 2195.2,991.3 2190.8,994.1 2186.4,996.9 2181.8,999.6 2177.3,1002.3 2172.6,1004.9 2167.9,1007.5 2163.2,1010.1 2158.4,1012.6 2153.5,1015.0 2148.5,1017.5 2143.5,1019.8 2138.5,1022.2 2133.4,1024.4 2128.2,1026.7 2123.0,1028.8 2117.7,1031.0 2112.4,1033.1 2107.1,1035.1 2101.6,1037.1 2096.2,1039.0 2090.7,1040.9 2085.1,1042.7 2079.5,1044.5 2073.9,1046.2 2068.2,1047.8 2062.5,1049.5 2056.7,1051.0 2050.9,1052.5 2045.1,1054.0 2039.3,1055.4 2033.4,1056.7 2027.4,1058.0 2021.5,1059.2 2015.5,1060.4 2009.5,1061.5 2003.4,1062.5 1997.4,1063.5 1991.3,1064.5 1985.2,1065.4 1979.1,1066.2 1972.9,1066.9 1966.7,1067.7 1960.6,1068.3 1954.4,1068.9 1948.2,1069.4 1941.9,1069.9 1935.7,1070.3 1929.5,1070.7 1923.2,1071.0 1916.9,1071.2 1910.7,1071.4 1904.4,1071.5 1898.1,1071.6 1891.9,1071.6 1885.6,1071.5 1879.3,1071.4 1873.1,1071.3 1866.8,1071.0 1860.6,1070.7 1854.3,1070.4 1848.1,1070.0 1841.9,1069.5 1835.7,1069.0 1829.5,1068.4 1823.3,1067.7 1817.1,1067.0 1811.0,1066.3 1804.8,1065.5 1798.7,1064.6 1792.6,1063.7 1786.6,1062.7 1780.5,1061.6 1774.5,1060.5 1768.5,1059.4 1762.6,1058.1 1756.6,1056.9 1750.7,1055.5 1744.9,1054.1 1739.0,1052.7 1733.2,1051.2 1737.8,1129.8 1743.4,1131.3 1749.1,1132.8 1754.8,1134.2 1760.5,1135.6 1766.3,1136.9 1772.1,1138.2 1777.9,1139.4 1783.7,1140.5 1789.6,1141.6 1795.5,1142.6 1801.4,1143.6 1807.4,1144.5 1813.3,1145.3 1819.3,1146.1 1825.3,1146.8 1831.3,1147.5 1837.3,1148.1 1843.4,1148.6 1849.4,1149.1 1855.5,1149.5 1861.5,1149.9 1867.6,1150.2 1873.7,1150.4 1879.8,1150.6 1885.9,1150.7 1892.0,1150.8 1898.0,1150.8 1904.1,1150.7 1910.2,1150.6 1916.3,1150.4 1922.4,1150.1 1928.5,1149.8 1934.5,1149.5 1940.6,1149.0 1946.6,1148.5 1952.7,1148.0 1958.7,1147.4 1964.7,1146.7 1970.7,1146.0 1976.7,1145.2 1982.6,1144.3 1988.6,1143.4 1994.5,1142.5 2000.4,1141.4 2006.2,1140.3 2012.1,1139.2 2017.9,1138.0 2023.7,1136.7 2029.4,1135.4 2035.2,1134.0 2040.9,1132.6 2046.6,1131.1 2052.2,1129.6 2057.8,1128.0 2063.3,1126.3 2068.9,1124.6 2074.4,1122.8 2079.8,1121.0 2085.2,1119.1 2090.6,1117.2 2095.9,1115.2 2101.2,1113.2 2106.4,1111.1 2111.6,1108.9 2116.7,1106.7 2121.8,1104.5 2126.8,1102.2 2131.8,1099.9 2136.7,1097.5 2141.6,1095.0 2146.4,1092.5 2151.2,1090.0 2155.9,1087.4 2160.5,1084.8 2165.1,1082.1 2169.6,1079.4 2174.1,1076.6 2178.5,1073.8 2182.8,1070.9 2187.1,1068.0 2191.3,1065.1 2195.4,1062.1 2199.5,1059.1 2203.5,1056.0 2207.5,1052.9 2211.3,1049.8 2215.1,1046.6 2218.8,1043.4 2222.5,1040.1 2226.1,1036.8 2229.6,1033.5 2233.0,1030.1 2236.3,1026.8 2239.6,1023.3 2242.8,1019.9 2245.9,1016.4 2248.9,1012.9 2251.9,1009.3 2254.8,1005.7 2257.6,1002.1 2260.3,998.5 2262.9,994.8 2265.5,991.2 2267.9,987.4 2270.3,983.7 2272.6,980.0 2274.8,976.2 2276.9,972.4 2279.0,968.6 2280.9,964.7 2282.8,960.9 2284.6,957.0 2286.3,953.1 2287.9,949.2" fill="url(#bg3)" stroke="#fff" stroke-width="0.90" stroke-linejoin="round"/>
<path d="M1893.7,777.7 L1733.2,1051.2 A416.4,260.9 0 0 1 1598.0,993.8 Z" fill="#8FAADC" stroke="#fff" stroke-width="1.0" stroke-linejoin="round"/>
<path d="M1893.7,777.7 L1598.0,993.8 A416.4,260.9 0 0 1 2117.7,590.4 Z" fill="#CC00CC" stroke="#fff" stroke-width="1.0" stroke-linejoin="round"/>
<path d="M1893.7,777.7 L2117.7,590.4 A416.4,260.9 0 0 1 2297.8,875.9 Z" fill="#A5A5A5" stroke="#fff" stroke-width="1.0" stroke-linejoin="round"/>
<path d="M1893.7,777.7 L2297.8,875.9 A416.4,260.9 0 0 1 1733.2,1051.2 Z" fill="#FF8CFF" stroke="#fff" stroke-width="1.0" stroke-linejoin="round"/>
<!-- data labels -->
<text transform="translate(245,616.0) scale(1.0,1.04)" font-size="44.5" fill="#000" font-weight="normal" text-anchor="start" >49%</text>
<text transform="translate(1071,869.5) scale(1.0,1.04)" font-size="44.5" fill="#000" font-weight="normal" text-anchor="start" >30%</text>
<text transform="translate(400,1161.0) scale(1.0,1.04)" font-size="44.5" fill="#000" font-weight="normal" text-anchor="start" >11%</text>
<text transform="translate(792,1167.6) scale(1.0,1.04)" font-size="44.5" fill="#000" font-weight="normal" text-anchor="start" >9%</text>
<text transform="translate(1484,626.1) scale(1.0,1.04)" font-size="44.5" fill="#000" font-weight="normal" text-anchor="start" >49%</text>
<text transform="translate(2308,719.7) scale(1.0,1.04)" font-size="44.5" fill="#000" font-weight="normal" text-anchor="start" >21%</text>
<text transform="translate(1582,1160.5) scale(1.0,1.04)" font-size="44.5" fill="#000" font-weight="normal" text-anchor="start" >6%</text>
<text transform="translate(2098,1177.9) scale(1.0,1.04)" font-size="44.5" fill="#000" font-weight="normal" text-anchor="start" >25%</text>
<!-- legends -->
<rect x="248.7" y="1293.8" width="16.3" height="16.3" fill="#8FAADC"/><text x="277.2" y="1316.0" font-size="44.6" fill="#000" font-weight="normal" text-anchor="start" >ни одного</text><rect x="530.9" y="1293.8" width="16.3" height="16.3" fill="#CC00CC"/><text x="559.4" y="1316.0" font-size="44.6" fill="#000" font-weight="normal" text-anchor="start" >1-2</text><rect x="676.5" y="1293.8" width="16.3" height="16.3" fill="#A5A5A5"/><text x="705.0" y="1316.0" font-size="44.6" fill="#000" font-weight="normal" text-anchor="start" >3-4</text><rect x="822.0" y="1293.8" width="16.3" height="16.3" fill="#FF8CFF"/><text x="850.5" y="1316.0" font-size="44.6" fill="#000" font-weight="normal" text-anchor="start" >более 5</text>
<rect x="1610.4" y="1302.6" width="16.3" height="16.3" fill="#8FAADC"/><text x="1640.2" y="1325.0" font-size="44.6" fill="#000" font-weight="normal" text-anchor="start" >ни одного</text><rect x="1886.7" y="1302.6" width="16.3" height="16.3" fill="#CC00CC"/><text x="1916.5" y="1325.0" font-size="44.6" fill="#000" font-weight="normal" text-anchor="start" >1-2</text><rect x="2026.3" y="1302.6" width="16.3" height="16.3" fill="#A5A5A5"/><text x="2056.1" y="1325.0" font-size="44.6" fill="#000" font-weight="normal" text-anchor="start" >3-4</text><rect x="2166.4" y="1302.6" width="16.3" height="16.3" fill="#FF8CFF"/><text x="2196.2" y="1325.0" font-size="44.6" fill="#000" font-weight="normal" text-anchor="start" >более 5</text>
<text x="2444" y="1443.9" font-size="33.7" fill="#B91E97" font-weight="normal" text-anchor="start" >kontakt.ru</text>
</svg>
</body></html>
